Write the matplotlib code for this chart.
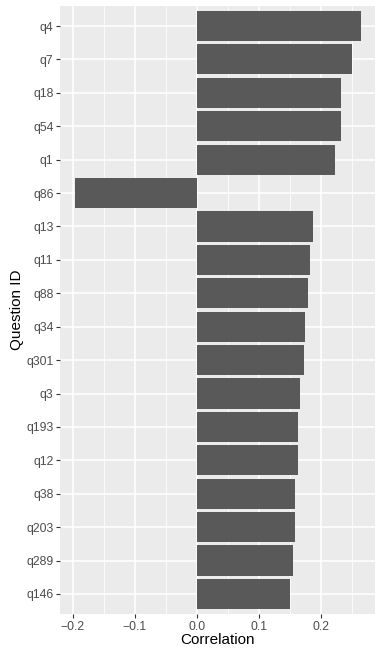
import matplotlib
matplotlib.use('Agg')
import matplotlib.pyplot as plt
import numpy as np

questions = ['q4', 'q7', 'q18', 'q54', 'q1', 'q86', 'q13', 'q11', 'q88',
             'q34', 'q301', 'q3', 'q193', 'q12', 'q38', 'q203', 'q289', 'q146']
correlation = [0.2645, 0.251, 0.233, 0.232, 0.223, -0.197, 0.187, 0.183, 0.179,
               0.1745, 0.173, 0.166, 0.164, 0.163, 0.159, 0.158, 0.156, 0.151]

panel_bg = '#EBEBEB'
bar_grey = '#595959'

plt.rcParams['font.family'] = ['Liberation Sans', 'DejaVu Sans']

fig = plt.figure(figsize=(3.82, 6.54), dpi=100)
ax = fig.add_axes([0.158, 0.0612, 0.8237, 0.9296])
ax.set_facecolor(panel_bg)

n = len(questions)
ys = np.arange(n)[::-1] + 1
ax.barh(ys, correlation, height=0.9, color=bar_grey, zorder=3)

lo, hi = min(correlation), max(correlation)
pad = (hi - lo) * 0.05
ax.set_xlim(lo - pad, hi + pad)
ax.set_ylim(0.4, n + 0.6)

ax.set_xticks([-0.2, -0.1, 0.0, 0.1, 0.2])
ax.set_xticklabels(['\u22120.2', '\u22120.1', '0.0', '0.1', '0.2'])
ax.set_xticks([-0.15, -0.05, 0.05, 0.15, 0.25], minor=True)
ax.set_yticks(ys)
ax.set_yticklabels(questions)

ax.grid(which='major', color='white', linewidth=1.1, zorder=0)
ax.grid(which='minor', axis='x', color='white', linewidth=0.55, zorder=0)
ax.set_axisbelow(True)
for s in ax.spines.values():
    s.set_visible(False)

ax.tick_params(which='major', length=3, width=0.8, color='#333333',
               labelsize=8.8, labelcolor='#4D4D4D', pad=2)
ax.tick_params(which='minor', length=0)

ax.set_xlabel('Correlation', fontsize=11, labelpad=0)
ax.set_ylabel('Question ID', fontsize=11, labelpad=1.5)

plt.savefig('out.png', dpi=100)
